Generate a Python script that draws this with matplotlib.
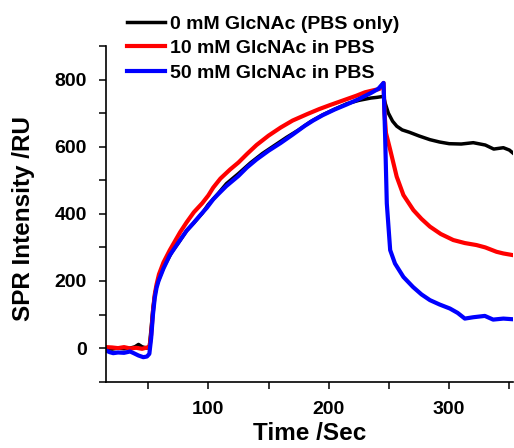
import matplotlib
matplotlib.use('Agg')
import matplotlib.pyplot as plt
from matplotlib.ticker import MultipleLocator

plt.rcParams['font.family'] = ['Liberation Sans', 'DejaVu Sans']
plt.rcParams['font.weight'] = 'bold'

# 0 mM GlcNAc (PBS only)
t_black = [15, 20, 25, 30, 35, 39, 42, 45, 49, 51, 52.5, 54, 55.5, 57, 60, 63, 66, 70, 76,
           82, 88, 95, 100, 108, 115, 125, 135, 145, 155, 165, 175, 185, 195, 205, 215,
           225, 235, 240, 245.5, 247, 249.5, 253, 256.5, 261, 267, 275, 284, 292, 300,
           310, 320, 330, 337, 345, 350, 353]
v_black = [0, -3, 0, -2, 0, 4, 11, 4, 0, 5, 60, 120, 160, 185, 215, 242, 262, 288, 318,
           350, 373, 402, 428, 460, 490, 520, 552, 580, 604, 628, 650, 675, 695, 712, 728,
           738, 745, 747, 750, 728, 700, 676, 661, 650, 643, 632, 621, 614, 609,
           608, 612, 605, 593, 597, 590, 581]

# 10 mM GlcNAc in PBS
t_red = [15, 20, 25, 30, 35, 40, 45, 49, 51, 52.5, 54, 55.5, 57, 59, 62.7, 68, 76.5,
         82, 88, 95, 100, 104, 110, 118, 125, 132, 140, 150, 160, 170, 182, 192, 201,
         212, 223, 230, 237, 242, 245.5, 246.3, 247.5, 251, 256.4, 262, 270.3, 277, 284,
         293, 303.4, 313, 322.7, 330, 339.3, 345, 353]
v_red = [3, 2, 0, 3, -1, 1, -2, 2, 0, 40, 110, 160, 190, 220, 255, 292, 345,
         375, 405, 432, 455, 478, 505, 532, 553, 578, 605, 633, 657, 678, 697, 712, 724,
         738, 752, 762, 768, 772, 790, 700, 641, 591, 511, 456, 411, 385, 362,
         340, 322, 313, 307, 300, 287, 282, 277]

# 50 mM GlcNAc in PBS
t_blue = [15, 18, 21, 25, 30, 35, 38, 42, 46, 49, 51, 52.5, 54, 55.5, 57, 58.6, 62.7, 68,
          76.5, 82, 87.5, 93, 98.7, 104, 108, 115, 125, 132, 140, 150, 160, 170, 180, 187,
          195, 205, 215, 225, 235, 241, 245.5, 246.8, 248.2, 251, 255, 262, 270, 277, 284,
          292, 300.6, 307, 313, 320, 329.6, 336.5, 345, 353]
v_blue = [-7, -12, -15, -13, -14, -10, -15, -22, -27, -25, -17, 30, 100, 150, 180, 200, 237, 277,
          322, 350, 372, 395, 418, 443, 458, 483, 513, 538, 562, 588, 611, 636, 662, 678,
          694, 711, 726, 742, 760, 772, 790, 631, 431, 292, 252, 212, 182, 160, 143,
          130, 118, 105, 88, 92, 96, 85, 88, 86]

labels = ['0 mM GlcNAc (PBS only)', '10 mM GlcNAc in PBS', '50 mM GlcNAc in PBS']

fig = plt.figure(figsize=(5.14, 4.48), dpi=100)
ax = fig.add_axes([106 / 514, 1 - 381.7 / 448, 407 / 514, 335.7 / 448])

ax.plot(t_black, v_black, color='black', lw=2.5, label=labels[0])
ax.plot(t_red, v_red, color='#ff0000', lw=3.0, label=labels[1])
ax.plot(t_blue, v_blue, color='#0000ff', lw=3.0, label=labels[2])

ax.set_xlim(15, 353)
ax.set_ylim(-100, 900)
ax.xaxis.set_major_locator(MultipleLocator(100))
ax.xaxis.set_minor_locator(MultipleLocator(50))
ax.set_yticks([0, 200, 400, 600, 800])
ax.yaxis.set_minor_locator(MultipleLocator(100))

for side in ['top', 'right']:
    ax.spines[side].set_visible(False)
for side in ['left', 'bottom']:
    ax.spines[side].set_linewidth(1.2)

ax.tick_params(which='both', direction='out', length=4.8, width=1.1, labelsize=14, pad=9)

ax.set_xlabel('Time /Sec', fontsize=17.5, fontweight='bold', labelpad=3)
ax.set_ylabel('SPR Intensity /RU', fontsize=17.5, fontweight='bold')
ax.yaxis.set_label_coords(-0.175, 0.485)

ax.legend(loc='upper left', bbox_to_anchor=(0.247, 0.966), bbox_transform=fig.transFigure,
          frameon=False, fontsize=14, handlelength=1.96, handletextpad=0.26,
          labelspacing=0.35, borderpad=0, borderaxespad=0)

fig.savefig('out.png', dpi=100)
